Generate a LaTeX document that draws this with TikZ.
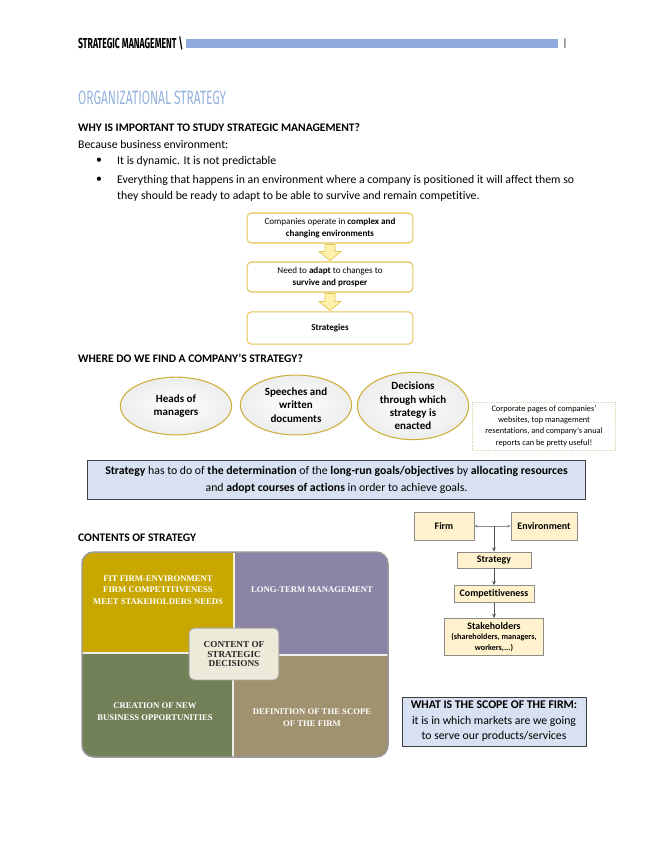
\documentclass[tikz,border=0pt]{standalone}
\usepackage{fontspec}
\setmainfont[Ligatures=NoCommon]{Carlito}
\newfontfamily\handfont[FakeStretch=0.6]{Fira Sans}
\newfontfamily\titlefont[FakeStretch=0.62]{Fira Sans}
\newfontfamily\quadfont{Liberation Serif}
\usetikzlibrary{calc,arrows.meta,shapes.geometric}
\definecolor{barblue}{RGB}{143,170,220}
\definecolor{titleblue}{RGB}{150,178,222}
\definecolor{gold}{RGB}{228,198,84}
\definecolor{ellgold}{RGB}{205,175,60}
\definecolor{arrowfill}{RGB}{255,242,170}
\definecolor{boxblue}{RGB}{216,225,242}
\definecolor{cream}{RGB}{255,242,204}
\definecolor{qgold}{RGB}{200,168,0}
\definecolor{qpurple}{RGB}{138,132,166}
\definecolor{qgreen}{RGB}{114,128,88}
\definecolor{qtan}{RGB}{160,146,110}
\definecolor{qcenter}{RGB}{238,234,218}
\definecolor{notebrd}{RGB}{220,210,175}
\definecolor{linegray}{RGB}{80,80,80}
\tikzset{
  bodytext/.style={anchor=west, inner sep=0pt, font=\fontsize{11}{13}\selectfont},
  headtext/.style={anchor=west, inner sep=0pt, font=\fontsize{10.8}{13}\selectfont\bfseries},
  flowbox/.style={draw=gold, line width=1pt, rounded corners=4pt, fill=white,
    minimum width=155pt, align=center, inner sep=2pt, font=\fontsize{8.5}{10.5}\selectfont},
  blockarrow/.style={draw=gold, fill=arrowfill, line width=0.7pt},
  ell/.style={ellipse, draw=ellgold, line width=1pt, inner color=white, outer color=black!7,
    align=center, inner sep=0pt, font=\fontsize{10.3}{12.4}\selectfont\bfseries},
  infobox/.style={draw=black!75, line width=0.8pt, fill=boxblue, align=center, inner sep=2pt},
  smallbox/.style={draw=black!45, line width=0.6pt, fill=cream, align=center, inner sep=1pt,
    font=\fontsize{9.3}{10.5}\selectfont\bfseries},
  quadtext/.style={text=white, align=center, inner sep=0pt, font=\fontsize{8.1}{11}\selectfont\quadfont\bfseries},
  conn/.style={draw=linegray, line width=0.8pt, -{Stealth[length=4pt,width=3.5pt]}},
}
\begin{document}
\begin{tikzpicture}[x=0.935pt,y=-0.935pt]
\useasboundingbox (0,0) rectangle (655,848);
\fill[white] (0,0) rectangle (655,848);

% header
\node[anchor=west, inner sep=0pt, font=\fontsize{13.5}{13.5}\selectfont\handfont\bfseries] (hdr) at (78,43) {STRATEGIC MANAGEMENT \textbackslash};
\fill[barblue] (186,39) rectangle (558,48);
\node[anchor=center, inner sep=0pt, font=\fontsize{10}{10}\selectfont] (bar) at (565,44) {|};

% title
\node[anchor=west, inner sep=0pt, text=titleblue, font=\fontsize{18}{18}\selectfont\titlefont] (title) at (78,98) {ORGANIZATIONAL STRATEGY};

\node[headtext] (q1) at (78,128) {WHY IS IMPORTANT TO STUDY STRATEGIC MANAGEMENT?};
\node[bodytext] (because) at (78,144) {Because business environment:};
\node[bodytext] (bul1) at (96,161) {\textbullet};
\node[bodytext] (t1) at (117,161) {It is dynamic. It is not predictable};
\node[bodytext] (bul2) at (96,180) {\textbullet};
\node[bodytext] (t2) at (117,180) {Everything that happens in an environment where a company is positioned it will affect them so};
\node[bodytext] (t3) at (117,196) {they should be ready to adapt to be able to survive and remain competitive.};

% flow
\node[flowbox, minimum height=28pt] (b1) at (330,228) {Companies operate in \textbf{complex and}\\\textbf{changing environments}};
\node[flowbox, minimum height=28pt] (b2) at (330,277) {Need to \textbf{adapt} to changes to\\\textbf{survive and prosper}};
\node[flowbox, minimum height=30pt] (b3) at (330,328) {\textbf{Strategies}};
\draw[blockarrow] ($(b1.south)+(-5,1)$) -- ($(b1.south)+(-5,8)$) -- ($(b1.south)+(-11,8)$) -- ($(b2.north)+(0,-1)$) -- ($(b1.south)+(11,8)$) -- ($(b1.south)+(5,8)$) -- ($(b1.south)+(5,1)$) -- cycle;
\draw[blockarrow] ($(b2.south)+(-5,1)$) -- ($(b2.south)+(-5,9)$) -- ($(b2.south)+(-11,9)$) -- ($(b3.north)+(0,-1)$) -- ($(b2.south)+(11,9)$) -- ($(b2.south)+(5,9)$) -- ($(b2.south)+(5,1)$) -- cycle;

\node[headtext] (q2) at (78,358) {WHERE DO WE FIND A COMPANY’S STRATEGY?};

\node[ell, minimum width=104pt, minimum height=54pt] (e1) at (176,406) {Heads of\\managers};
\node[ell, minimum width=104pt, minimum height=56pt] (e2) at (296,405) {Speeches and\\written\\documents};
\node[ell, minimum width=104pt, minimum height=58pt] (e3) at (413,406) {Decisions\\through which\\strategy is\\enacted};

\node[draw=notebrd, densely dotted, line width=0.8pt, fill=white, minimum width=134pt, minimum height=45pt, align=center, inner sep=1pt, font=\fontsize{7.8}{10.6}\selectfont] (note) at (544,426) {Corporate pages of companies’\\websites, top management\\resentations, and company’s anual\\reports can be pretty useful!};

\node[infobox, minimum width=466pt, minimum height=37pt, font=\fontsize{11}{15.9}\selectfont] (def) at (336.5,480) {\textbf{Strategy} has to do of \textbf{the determination} of the \textbf{long-run goals/objectives} by \textbf{allocating resources}\\and \textbf{adopt courses of actions} in order to achieve goals.};

\node[headtext] (q3) at (78,538) {CONTENTS OF STRATEGY};

% quadrant diagram
\begin{scope}
\clip[rounded corners=11pt] (82,552) rectangle (388,757);
\fill[qgold] (82,552) rectangle (234,653);
\fill[qpurple] (234,552) rectangle (388,655);
\fill[qgreen] (82,653) rectangle (233,757);
\fill[qtan] (233,655) rectangle (388,757);
\draw[white!85!qgold, line width=1pt] (234,552) -- (234,655);
\draw[white!85!qgreen, line width=1pt] (233,653) -- (233,757);
\draw[white!85!qgreen, line width=1pt] (82,653) -- (234,653);
\draw[white!85!qtan, line width=1pt] (233,655) -- (388,655);
\end{scope}
\draw[black!40, line width=1.4pt, rounded corners=11pt] (82,552) rectangle (388,757);
\node[quadtext] (qa) at (158,590) {FIT FIRM-ENVIRONMENT\\FIRM COMPETITIVENESS\\MEET STAKEHOLDERS NEEDS};
\node[quadtext] (qb) at (312,590) {LONG-TERM MANAGEMENT};
\node[quadtext] (qc) at (155,712) {CREATION OF NEW\\BUSINESS OPPORTUNITIES};
\node[quadtext] (qd) at (312,718) {DEFINITION OF THE SCOPE\\OF THE FIRM};
\node[draw=black!35, line width=0.8pt, fill=qcenter, rounded corners=5pt, minimum width=84pt, minimum height=48.5pt, align=center, inner sep=0pt, text=black!85, font=\fontsize{8.6}{9.3}\selectfont\quadfont\bfseries] (cc) at (234,654) {CONTENT OF\\STRATEGIC\\DECISIONS};

% right flow
\node[smallbox, minimum width=56pt, minimum height=26pt] (firm) at (444,526) {Firm};
\node[smallbox, minimum width=62pt, minimum height=26pt] (env) at (544,526) {Environment};
\node[smallbox, minimum width=69pt, minimum height=15pt] (strat) at (494,560) {Strategy};
\node[smallbox, minimum width=75pt, minimum height=16pt] (comp) at (494,594) {Competitiveness};
\node[smallbox, minimum width=92pt, minimum height=35pt, font=\fontsize{9.3}{10}\selectfont] (stake) at (494,637) {\textbf{Stakeholders}\\{\fontsize{7.6}{9}\selectfont\bfseries(shareholders, managers,}\\{\fontsize{7.6}{9}\selectfont\bfseries workers,...)}};
\coordinate (j) at (strat.north |- firm.east);
\draw[draw=black!45, line width=0.7pt, {Stealth[length=3pt,width=3pt]}-{Stealth[length=3pt,width=3pt]}] (firm.east) -- (env.west);
\draw[conn] (j) -- (strat.north);
\draw[conn] (strat.south) -- (comp.north);
\draw[conn] (comp.south) -- (stake.north);

\node[infobox, minimum width=172pt, minimum height=45.8pt, font=\fontsize{11}{14.5}\selectfont] (scope) at (494,721.5) {\textbf{WHAT IS THE SCOPE OF THE FIRM:}\\it is in which markets are we going\\to serve our products/services};
\end{tikzpicture}
\end{document}
